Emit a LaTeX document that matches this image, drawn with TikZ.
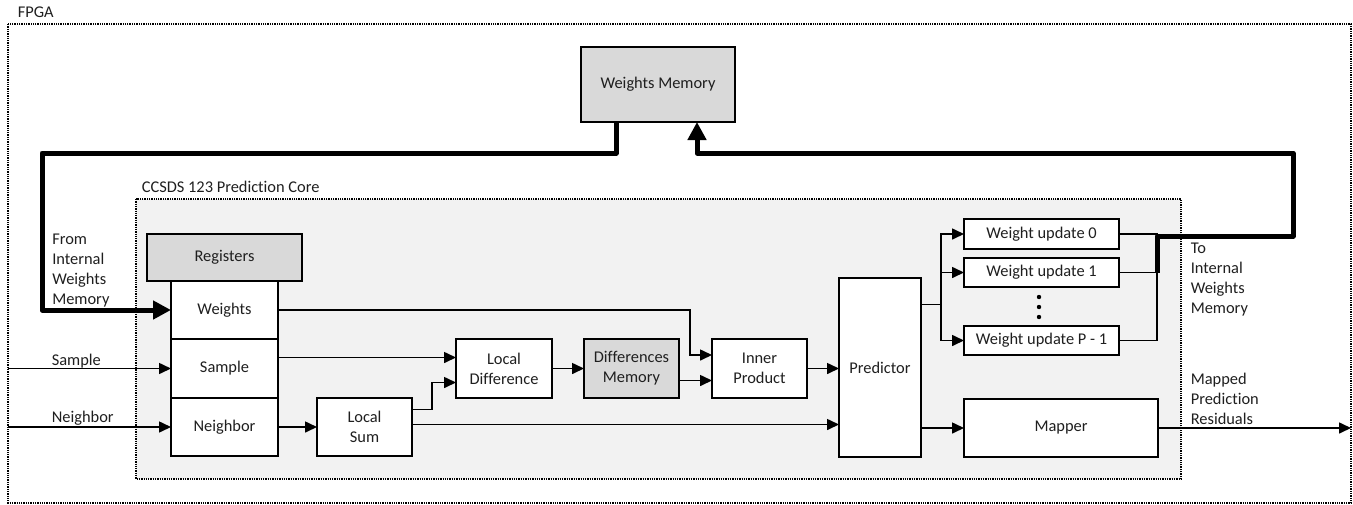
\documentclass[tikz,border=0pt]{standalone}
\usepackage{fontspec}
\setmainfont{Carlito}[Ligatures=NoCommon]
\usepackage{tikz}
\usetikzlibrary{arrows.meta, calc, positioning}
\definecolor{memgray}{HTML}{D9D9D9}
\definecolor{coregray}{HTML}{F2F2F2}
\tikzset{blk/.style={draw, fill=white, line width=2pt, align=center, inner sep=0pt, outer sep=0pt},
	memblk/.style={blk, fill=memgray},
	lbl/.style={align=left, inner sep=0pt, anchor=north west},
	txt/.style={anchor=base west, inner sep=0pt},
	frame/.style={densely dotted, line width=1.3pt},
	bus/.style={line width=5pt, line join=round, -{Triangle[length=18pt,width=18pt]}}}

\begin{document}
\begin{tikzpicture}[x=1pt, y=-1pt, >={Triangle[length=12pt,width=11pt]}, line width=1.6pt, font=\fontsize{16.4}{20}\selectfont, text=black!88]
	\useasboundingbox (0,0) rectangle (1353,504);
	\draw[frame] (8,24) rectangle (1351,503); \node[txt] (fpga) at (17,17.5) {FPGA};
	\draw[frame, fill=coregray] (136,199) rectangle (1181,479); \node[txt] (corelbl) at (141,192.5) {CCSDS 123 Prediction Core};

	\node[memblk, minimum width=154pt, minimum height=75pt] (wmem) at (658,84.5) {Weights Memory};
	\node[memblk, minimum width=155pt, minimum height=47pt] (regs) at (224.5,257.5) {Registers};
	\node[blk, minimum width=107pt, minimum height=58pt, below=0pt of regs] (wts) {Weights};
	\node[blk, minimum width=107pt, minimum height=59pt, below=0pt of wts] (smp) {Sample};
	\node[blk, minimum width=107pt, minimum height=58pt, below=0pt of smp] (nbr) {Neighbor};
	\node[blk, minimum width=95pt, minimum height=58pt, right=39pt of nbr] (lsum) {Local\\Sum};
	\node[blk, minimum width=96pt, minimum height=59pt, right=178pt of smp] (ldiff) {Local\\Difference};
	\node[memblk, minimum width=95pt, minimum height=59pt, right=32pt of ldiff] (dmem) {Differences\\Memory};
	\node[blk, minimum width=95pt, minimum height=59pt, right=33pt of dmem] (iprod) {Inner\\Product};
	\node[blk, minimum width=82pt, minimum height=179pt] (pred) at (880,367.5) {Predictor};
	\node[blk, minimum width=155pt, minimum height=30pt] (wu0) at (1041.5,234) {Weight update 0};
	\node[blk, minimum width=155pt, minimum height=29pt] (wu1) at (1041.5,272.5) {Weight update 1};
	\node[blk, minimum width=155pt, minimum height=29pt] (wup) at (1041.5,340.5) {Weight update P - 1};
	\node[blk, minimum width=194pt, minimum height=58pt] (mapper) at (1061,428) {Mapper};
	\fill (1039,297) circle (2.2pt); \fill (1039,307) circle (2.2pt); \fill (1039,317) circle (2.2pt);

	\coordinate (inS) at (8,368.5); \coordinate (inN) at (8,427); \coordinate (outM) at (1351,428);
	\coordinate (busL) at (42,153); \coordinate (busR) at (1293,153);

	\draw[->] (inS) -- (smp.west); \node[txt] (smplbl) at (51,365) {Sample};
	\draw[->] (inN) -- (nbr.west); \node[txt] (nbrlbl) at (51,422.5) {Neighbor};
	\draw[->] (wts.east) -| ([xshift=-22pt,yshift=13.5pt]iprod.west) -- ([yshift=13.5pt]iprod.west);
	\draw[->] ([yshift=11pt]smp.east) -- ([yshift=11pt]ldiff.west);
	\draw[->] (nbr.east) -- (lsum.west);
	\draw[->] ([yshift=17.5pt]lsum.east) -- ++(20,0) |- ([yshift=-14pt]ldiff.west);
	\draw[->] ([yshift=2.5pt]lsum.east) -- ([yshift=2.5pt]lsum.east -| pred.west);
	\draw[->] (ldiff.east) -- (dmem.west); \draw[->] ([yshift=-12pt]dmem.east) -- ([yshift=-12pt]iprod.west);
	\draw[->] (iprod.east) -- (iprod.east -| pred.west);
	\draw ([yshift=63pt]pred.east) -- ++(20,0) coordinate (fan);
	\draw[->] (fan) |- (wu0.west); \draw[->] (fan) |- (wu1.west); \draw[->] (fan) |- (wup.west);
	\draw (wu0.east) -- ++(38,0) |- (wup.east); \draw (wu1.east) -- ++(38,0);
	\draw[->] (pred.east |- mapper.west) -- (mapper.west); \draw[->] (mapper.east) -- (outM);

	\draw[bus] ([xshift=-42pt]wmem.south) |- (busL) |- (wts.west);
	\draw[bus] ([xshift=38pt]wu1.east) -- ([xshift=38pt,yshift=-2pt]wu0.east) -| (busR) -| ([xshift=39pt]wmem.south);

	\node[lbl] (fromlbl) at (51.5,233.5) {From\\Internal\\Weights\\Memory};
	\node[lbl] (tolbl) at (1190,242) {To\\Internal\\Weights\\Memory};
	\node[lbl] (outlbl) at (1190,372) {Mapped\\Prediction\\Residuals};
\end{tikzpicture}
\end{document}
